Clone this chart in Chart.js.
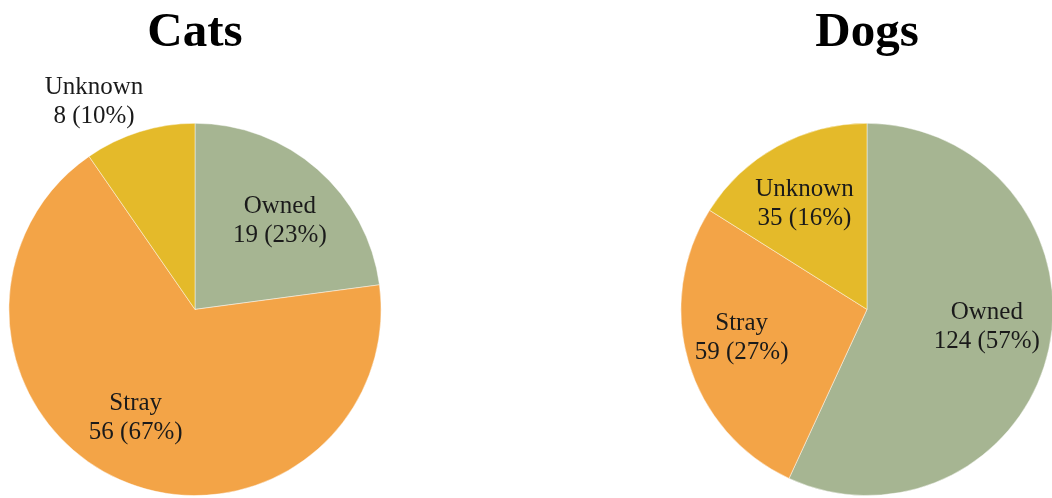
<!DOCTYPE html>
<html>
<head>
<meta charset="utf-8">
<script src="https://cdn.jsdelivr.net/npm/chart.js@4"></script>
<style>
  html, body { margin: 0; padding: 0; background: #fff; overflow: hidden; }
  body { width: 1052px; height: 498px; position: relative; }
  .box { position: absolute; top: 0; height: 498px; }
  #catsBox { left: 0; width: 390px; }
  #dogsBox { left: 667px; width: 400px; }
</style>
</head>
<body>
<div class="box" id="catsBox"><canvas id="catsChart"></canvas></div>
<div class="box" id="dogsBox"><canvas id="dogsChart"></canvas></div>
<script>
// Данные
const categories = ["Owned", "Stray", "Unknown"];
const catsValues = [19, 56, 8];
const dogsValues = [124, 59, 35];
const sliceColors = ["#a6b592", "#f3a447", "#e4ba2a"];

// Положение подписей: доля радиуса и сдвиг угла (градусы)
const catsLabelPos = [[0.66, 2.5], [0.66, 5], [1.24, -8.6]];
const dogsLabelPos = [[0.65, -4.4], [0.69, 4], [0.66, -1.7]];

const labelFont = "25px 'Liberation Serif', serif";

// Плагин подписей секторов
const sliceLabels = {
  id: "sliceLabels",
  afterDatasetsDraw(chart, args, opts) {
    const ctx = chart.ctx;
    const meta = chart.getDatasetMeta(0);
    const values = chart.data.datasets[0].data;
    const total = values.reduce((a, b) => a + b, 0);
    ctx.save();
    ctx.font = labelFont;
    ctx.fillStyle = "#1a1a1a";
    ctx.textAlign = "center";
    ctx.textBaseline = "middle";
    meta.data.forEach((arc, i) => {
      const pos = opts.positions[i];
      const mid = (arc.startAngle + arc.endAngle) / 2 + pos[1] * Math.PI / 180;
      const r = arc.outerRadius * pos[0];
      const x = arc.x + r * Math.cos(mid);
      const y = arc.y + r * Math.sin(mid);
      const pct = Math.round(values[i] / total * 100);
      ctx.fillText(chart.data.labels[i], x, y - 14);
      ctx.fillText(values[i] + " (" + pct + "%)", x, y + 15);
    });
    ctx.restore();
  },
};

function makePie(id, title, values, positions) {
  new Chart(document.getElementById(id), {
    type: "pie",
    data: {
      labels: categories,
      datasets: [
        {
          data: values,
          backgroundColor: sliceColors,
          borderColor: "rgba(255,255,255,0.45)",
          borderWidth: 1,
        },
      ],
    },
    options: {
      responsive: true,
      maintainAspectRatio: false,
      animation: false,
      layout: { padding: { top: 0, bottom: 2 } },
      plugins: {
        legend: { display: false },
        tooltip: { enabled: false },
        title: {
          display: true,
          text: title,
          color: "#000",
          font: { family: "'Liberation Serif', serif", size: 49, weight: "bold", lineHeight: 1.2 },
          padding: { top: 4, bottom: 60 },
        },
        sliceLabels: { positions: positions },
      },
    },
    plugins: [sliceLabels],
  });
}

makePie("catsChart", "Cats", catsValues, catsLabelPos);
makePie("dogsChart", "Dogs", dogsValues, dogsLabelPos);
</script>
</body>
</html>
